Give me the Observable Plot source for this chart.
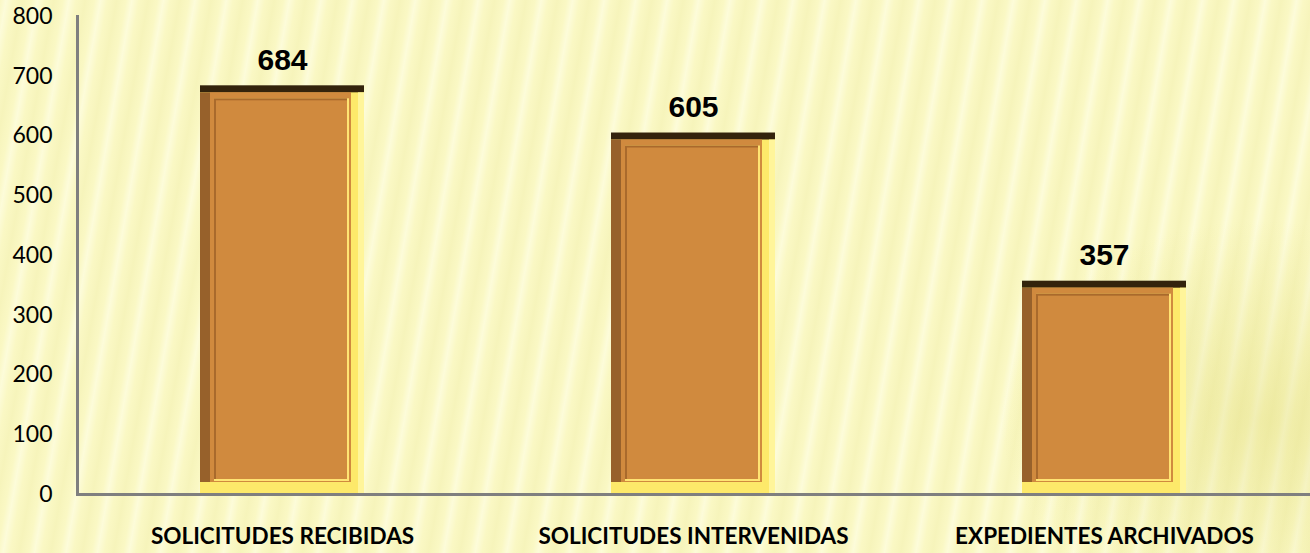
<!DOCTYPE html>
<html>
<head>
<meta charset="utf-8">
<script src="https://cdn.jsdelivr.net/npm/d3@7"></script>
<script src="https://cdn.jsdelivr.net/npm/@observablehq/plot@0.6"></script>
<style>
  html, body { margin: 0; padding: 0; }
  body {
    width: 1310px; height: 553px; overflow: hidden;
    background-color: #faf8c4;
    background-image:
      radial-gradient(ellipse 260px 200px at 1260px 420px, rgba(220,214,110,0.35), rgba(220,214,110,0) 100%),
      repeating-linear-gradient(100deg, rgba(255,255,235,0.0) 0px, rgba(255,255,235,0.55) 6px, rgba(255,255,235,0.0) 13px, rgba(235,232,160,0.25) 22px, rgba(255,255,235,0.0) 31px);
  }
  #chart svg { display: block; }
</style>
</head>
<body>
<div id="chart"></div>
<script>
const categories = ["SOLICITUDES RECIBIDAS", "SOLICITUDES INTERVENIDAS", "EXPEDIENTES ARCHIVADOS"];
const values = [684, 605, 357];
const yTicks = [0, 100, 200, 300, 400, 500, 600, 700, 800];

const data = categories.map((c, i) => ({category: c, value: values[i]}));

const face = "#d08a3e";
const bar = (fill, inset) => Plot.barY(data, {x: "category", y: "value", fill, ...inset});

const chart = Plot.plot({
  width: 1310,
  height: 553,
  marginLeft: 77,
  marginRight: 0,
  marginTop: 16,
  marginBottom: 59,
  style: {background: "transparent", fontFamily: "Lato, sans-serif", color: "#000"},
  x: {domain: categories, paddingInner: 0.6, paddingOuter: 0.3, label: null},
  y: {domain: [0, 800], label: null},
  marks: [
    // bevelled bars
    bar("#33230c", {}),
    bar("#fde96a", {insetTop: 7}),
    bar("#fff59a", {insetTop: 7, insetLeft: 158}),
    bar("#97612b", {insetTop: 7, insetRight: 13, insetBottom: 12}),
    bar(face, {insetTop: 7, insetLeft: 10, insetRight: 13, insetBottom: 12}),
    bar("#ffe473", {insetTop: 13, insetLeft: 14, insetRight: 15, insetBottom: 13}),
    bar("#a96a2c", {insetTop: 13, insetLeft: 14, insetRight: 17, insetBottom: 15}),
    bar(face, {insetTop: 15, insetLeft: 16, insetRight: 17, insetBottom: 15}),
    // axes
    Plot.axisY({ticks: yTicks, tickSize: 0, tickPadding: 25, fontSize: 23, label: null, fill: "#000"}),
    Plot.axisX({tickSize: 0, tickPadding: 34, fontSize: 22.5, fontWeight: "bold", label: null, fill: "#000"}),
    Plot.frame({anchor: "left", stroke: "#7f7f7f", strokeWidth: 3}),
    Plot.ruleY([0], {stroke: "#7f7f7f", strokeWidth: 3}),
    // value labels
    Plot.text(data, {x: "category", y: "value", text: d => String(d.value), dy: -16, lineAnchor: "bottom",
      fontSize: 30, fontWeight: "bold", fontFamily: "Liberation Sans, Arial, sans-serif", fill: "#000"})
  ]
});
document.getElementById("chart").appendChild(chart);
</script>
</body>
</html>
